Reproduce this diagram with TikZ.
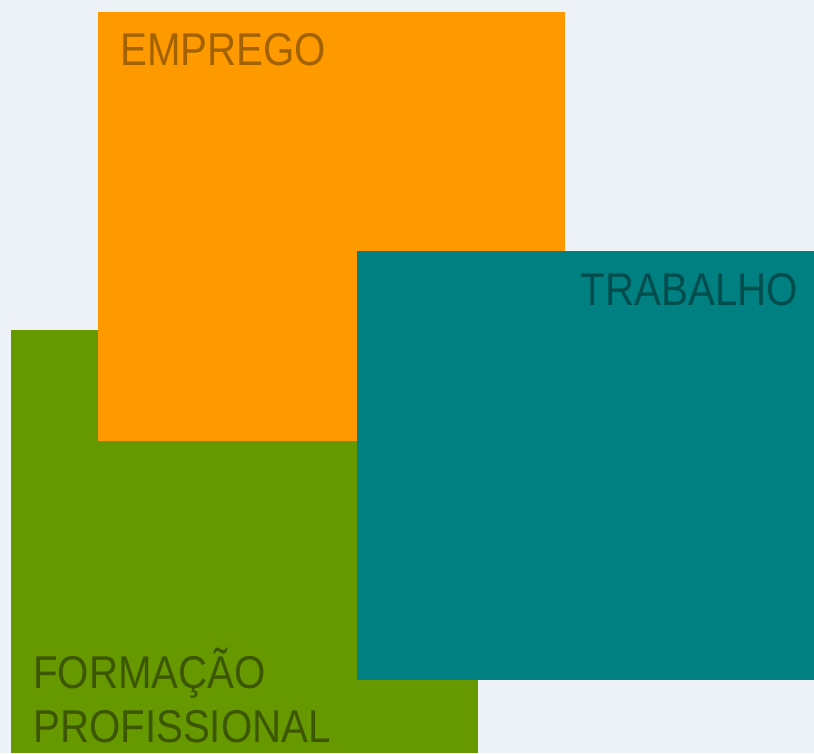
\documentclass[tikz,border=0pt]{standalone}
\usepackage{fontspec}
\newfontfamily\labelfont[FakeStretch=0.875]{Liberation Sans}
\usetikzlibrary{positioning}
\definecolor{fundo}{HTML}{EDF2F7}
\definecolor{laranja}{HTML}{FF9900}
\definecolor{laranjaesc}{HTML}{A36200}
\definecolor{verde}{HTML}{669900}
\definecolor{verdeesc}{HTML}{3D5700}
\definecolor{petroleo}{HTML}{008080}
\definecolor{petroleoesc}{HTML}{004D4D}
\tikzset{
  bloco/.style={draw=none, inner sep=0pt, anchor=north west},
  rotulo/.style={inner sep=0pt, font=\labelfont\fontsize{46}{54}\selectfont}
}
\begin{document}
\begin{tikzpicture}[x=1pt, y=-1pt]
    \fill[fundo] (0,0) rectangle (814,753);
    \useasboundingbox (0,0) rectangle (814,753);
    \node[bloco, fill=verde, minimum width=467pt, minimum height=423pt] (formacao) at (11,330) {};
    \node[bloco, fill=laranja, minimum width=467pt, minimum height=429pt] (emprego) at (98,12) {};
    \node[bloco, fill=petroleo, minimum width=457pt, minimum height=429pt] (trabalho) at (357,251) {};
    \node[rotulo, anchor=base west, text=laranjaesc] (tEmprego) at (120,65) {EMPREGO};
    \node[rotulo, anchor=base east, text=petroleoesc] (tTrabalho) at (798,305) {TRABALHO};
    \node[rotulo, anchor=base west, align=left, text=verdeesc] (tFormacao) at (33,742) {FORMAÇÃO\\PROFISSIONAL};
\end{tikzpicture}
\end{document}
